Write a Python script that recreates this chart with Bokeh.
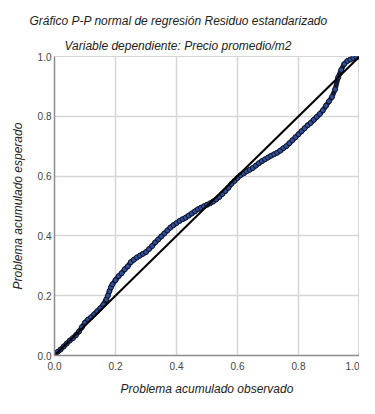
from bokeh.plotting import figure
from bokeh.models import Title, Range1d, FixedTicker
from bokeh.embed import file_html
from bokeh.resources import INLINE

title_line1 = "Gráfico P-P normal de regresión Residuo estandarizado"
title_line2 = "Variable dependiente: Precio promedio/m2"
x_label = "Problema acumulado observado"
y_label = "Problema acumulado esperado"

# observed cumulative probability (x) vs expected cumulative probability (y)
observed = [0.00, 0.01, 0.02, 0.03, 0.04, 0.05, 0.06, 0.07, 0.08, 0.09,
            0.10, 0.11, 0.12, 0.13, 0.14, 0.15, 0.16, 0.17, 0.175, 0.18,
            0.185, 0.19, 0.20, 0.21, 0.22, 0.23, 0.24, 0.25, 0.26, 0.27,
            0.28, 0.29, 0.30, 0.31, 0.32, 0.33, 0.34, 0.35, 0.36, 0.37,
            0.38, 0.39, 0.40, 0.41, 0.42, 0.43, 0.44, 0.45, 0.46, 0.47,
            0.48, 0.49, 0.50, 0.51, 0.52, 0.53, 0.54, 0.55, 0.56, 0.57,
            0.58, 0.59, 0.60, 0.61, 0.62, 0.63, 0.64, 0.65, 0.66, 0.67,
            0.68, 0.69, 0.70, 0.71, 0.72, 0.73, 0.74, 0.75, 0.76, 0.77,
            0.78, 0.79, 0.80, 0.81, 0.82, 0.83, 0.84, 0.85, 0.86, 0.87,
            0.88, 0.89, 0.90, 0.91, 0.92, 0.93, 0.94, 0.95, 0.96, 0.97,
            0.98, 0.99, 1.00]
expected = [0.005, 0.012, 0.020, 0.030, 0.040, 0.050, 0.058, 0.068, 0.080, 0.095,
            0.110, 0.120, 0.128, 0.138, 0.148, 0.158, 0.170, 0.188, 0.200, 0.215,
            0.228, 0.238, 0.252, 0.265, 0.275, 0.288, 0.298, 0.312, 0.320, 0.328,
            0.334, 0.340, 0.346, 0.356, 0.366, 0.378, 0.388, 0.398, 0.408, 0.418,
            0.428, 0.436, 0.443, 0.450, 0.456, 0.461, 0.468, 0.475, 0.482, 0.489,
            0.494, 0.499, 0.504, 0.509, 0.515, 0.522, 0.530, 0.540, 0.550, 0.561,
            0.574, 0.584, 0.594, 0.603, 0.609, 0.616, 0.621, 0.627, 0.635, 0.643,
            0.650, 0.656, 0.662, 0.668, 0.673, 0.678, 0.685, 0.693, 0.700, 0.710,
            0.720, 0.730, 0.740, 0.750, 0.760, 0.770, 0.778, 0.788, 0.798, 0.808,
            0.820, 0.835, 0.850, 0.865, 0.890, 0.930, 0.955, 0.975, 0.985, 0.990,
            0.995, 0.998, 1.000]

diag_x = [0.0, 1.0]
diag_y = [0.0, 1.0]

tick_values = [0.0, 0.2, 0.4, 0.6, 0.8, 1.0]
tick_labels = ["0.0", "0.2", "0.4", "0.6", "0.8", "1.0"]

FONT = "'Liberation Sans Narrow', 'Liberation Sans', Arial"
TFONT = "'Liberation Sans', Arial"

p = figure(width=359, height=398, output_backend="svg", toolbar_location=None,
           x_range=Range1d(0, 1), y_range=Range1d(0, 1),
           min_border_left=54, min_border_right=0, min_border_top=56,
           min_border_bottom=10, title=None)
p.background_fill_color = "white"
p.border_fill_color = "white"
p.outline_line_color = "#d6d6d6"

t2 = Title(text=title_line2, align="left", offset=10, text_font=TFONT,
           text_font_size="12px", text_font_style="italic", text_color="#222222",
           standoff=8)
t1 = Title(text=title_line1, align="left", offset=-25, text_font=TFONT,
           text_font_size="12px", text_font_style="italic", text_color="#222222",
           standoff=9)
p.add_layout(t2, "above")
p.add_layout(t1, "above")

for ax in (p.xaxis[0], p.yaxis[0]):
    ax.ticker = FixedTicker(ticks=tick_values)
    ax.major_label_overrides = {v: s for v, s in zip(tick_values, tick_labels)}
    ax.major_tick_out = 0
    ax.major_tick_in = 0
    ax.minor_tick_out = 0
    ax.minor_tick_in = 0
    ax.axis_line_color = "#8c8c8c"
    ax.axis_line_width = 1.5
    ax.major_label_text_font = FONT
    ax.major_label_text_font_size = "10px"
    ax.major_label_text_color = "#444444"
    ax.axis_label_text_font = TFONT
    ax.axis_label_text_font_size = "12px"
    ax.axis_label_text_font_style = "italic"
    ax.axis_label_text_color = "#222222"

p.xaxis.axis_label = x_label
p.yaxis.axis_label = y_label
p.xaxis.major_label_standoff = 6
p.yaxis.major_label_standoff = 3
p.xaxis.axis_label_standoff = 9
p.yaxis.axis_label_standoff = 10

p.grid.grid_line_color = "#d6d6d6"
p.grid.grid_line_width = 1.5
p.xgrid.ticker = FixedTicker(ticks=tick_values)
p.ygrid.ticker = FixedTicker(ticks=tick_values)

p.line(observed, expected, line_color="#141a33", line_width=5)
p.scatter(observed, expected, marker="circle", size=5, fill_color="#2f4f9a",
          line_color="#10142a", line_width=1)
p.line(diag_x, diag_y, line_color="black", line_width=2)

open("out.html", "w").write(file_html(p, INLINE))
